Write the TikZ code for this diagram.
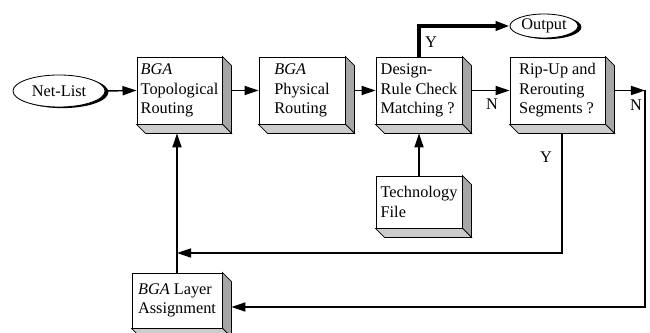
\documentclass[tikz,border=0pt]{standalone}
\usepackage{fontspec}
\setmainfont{Liberation Serif}
\usetikzlibrary{arrows.meta,calc,shapes.geometric,shadows}
\tikzstyle{block}=[rectangle,draw=black,line width=0.6pt,fill=white,
align=left,inner sep=1pt,font=\fontsize{11.6}{13.8}\selectfont]
\tikzstyle{terminal}=[ellipse,draw=black,line width=0.6pt,fill=white,inner sep=0pt,
font=\fontsize{11.6}{13.8}\selectfont,
general shadow={fill=black,shadow xshift=2.4pt,shadow yshift=-0.8pt}]
\tikzstyle{tag}=[font=\fontsize{11.6}{13.8}\selectfont,inner sep=1pt]
% depth of the solid blocks, in picture units
\def\dep{9}
% side and bottom faces of a solid block
\newcommand{\solidfaces}[1]{%
  \filldraw[fill=gray!70,line width=0.5pt] (#1.north east) -- ++(\dep,\dep)
    -- ($(#1.south east)+(\dep,\dep)$) -- (#1.south east) -- cycle;
  \filldraw[fill=gray!40,line width=0.5pt] (#1.south west) -- (#1.south east)
    -- ++(\dep,\dep) -- ($(#1.south west)+(\dep,\dep)$) -- cycle;
}

\begin{document}
\begin{tikzpicture}[x=0.025cm,y=-0.025cm,>={Triangle[length=10pt,width=6.5pt]},
    line width=1pt]
  \useasboundingbox (0,0) rectangle (650,333);
  % terminals
  \node (net) [terminal,minimum width=2.3cm,minimum height=0.8cm] at (59,91) {Net-List};
  \node (out) [terminal,minimum width=1.7cm,minimum height=0.6cm] at (544,26) {Output};
  % upper row of blocks
  \node (topo) [block,minimum width=2.125cm,minimum height=1.675cm] at (179.5,90.5)
    {\textit{BGA}\\Topological\\Routing};
  \node (phys) [block,minimum width=2.15cm,minimum height=1.675cm] at (302,90.5)
    {\textit{BGA}\\Physical\\Routing};
  \node (drc) [block,minimum width=2.15cm,minimum height=1.675cm] at (419,90.5)
    {Design-\\Rule Check\\Matching ?};
  \node (rip) [block,minimum width=2.375cm,minimum height=1.675cm] at (557.5,90.5)
    {Rip-Up and\\Rerouting\\Segments ?};
  % lower blocks
  \node (tech) [block,minimum width=2.15cm,minimum height=1.3cm] at (419,202)
    {Technology\\File};
  \node (layer) [block,minimum width=2.25cm,minimum height=1.375cm] at (177,300.5)
    {\textit{BGA} Layer\\Assignment};
  \foreach \b in {topo,phys,drc,rip,tech,layer}
    \solidfaces{\b};
  \coordinate (turn) at (645,90.5);

  % main flow
  \path[->]
    (net.east) edge (topo.west)
    ($(topo.east)+(\dep,0)$) edge (phys.west)
    ($(phys.east)+(\dep,0)$) edge (drc.west)
    ($(drc.east)+(\dep,0)$) edge (rip.west)
    ($(rip.east)+(\dep,0)$) edge (turn)
    (tech.north) edge ($(tech.north |- drc.south)+(0,\dep)$)
    (layer.north) edge ($(layer.north |- topo.south)+(0,\dep)$);
  \draw[->,line width=2.4pt] (drc.north) |- (out.west);
  % feedback loops
  \draw[->] ($(rip.south)+(0.5*\dep,\dep)$) |- (layer.north |- 0,253);
  \draw[->] (turn) |- ($(layer.east)+(\dep,6.5)$);

  % branch labels
  \node (y1) [tag] at (431,42) {Y};
  \node (n1) [tag] at (492,104) {N};
  \node (n2) [tag] at (636,105) {N};
  \node (y2) [tag] at (546,157) {Y};
\end{tikzpicture}
\end{document}
